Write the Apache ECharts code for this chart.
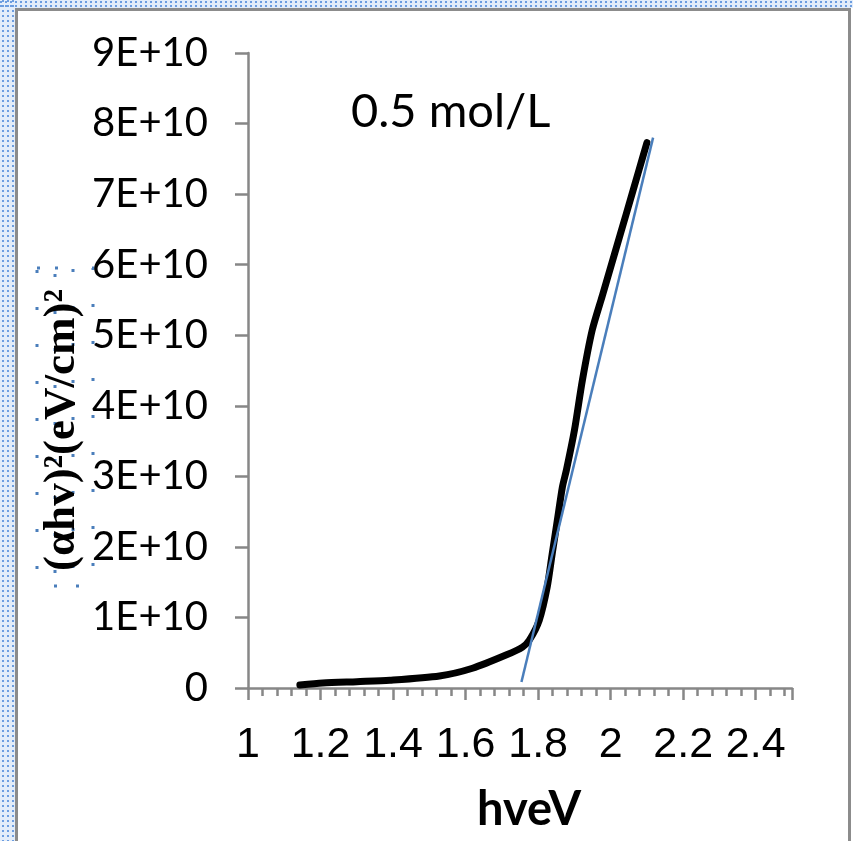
<!DOCTYPE html>
<html>
<head>
<meta charset="utf-8">
<script src="https://cdn.jsdelivr.net/npm/echarts@6/dist/echarts.min.js"></script>
<style>
  html, body { margin: 0; padding: 0; background: #fff; }
  #chart { width: 853px; height: 841px; }
</style>
</head>
<body>
<div id="chart"></div>
<script>
// photon energy (eV) and (αhν)² in units of 1E+10
const hv = [1.143, 1.206, 1.30, 1.391, 1.528, 1.619, 1.713, 1.757, 1.776, 1.803, 1.825, 1.839,
  1.853, 1.867, 1.878, 1.900, 1.922, 1.949, 1.977, 2.010, 2.043, 2.078, 2.100];
const alphaHv2 = [0.042, 0.07, 0.09, 0.11, 0.17, 0.28, 0.47, 0.58, 0.68, 0.96, 1.43, 1.91,
  2.38, 2.85, 3.09, 3.65, 4.36, 5.07, 5.56, 6.14, 6.72, 7.34, 7.73];
// linear fit (tangent) end points
const fitX = [1.754, 2.117];
const fitY = [0.085, 7.80];

const xTicks = [1, 1.2, 1.4, 1.6, 1.8, 2, 2.2, 2.4];

const chart = echarts.init(document.getElementById('chart'));
const axisGray = '#878787';

const curve = hv.map((x, i) => [x, alphaHv2[i]]);
const fit = fitX.map((x, i) => [x, fitY[i]]);

// Word text-box frame around the chart
const frame = [
  { type: 'rect', shape: { x: 0, y: 0, width: 853, height: 8 }, style: { fill: '#e3edfa' }, silent: true },
  { type: 'rect', shape: { x: 0, y: 0, width: 15, height: 841 }, style: { fill: '#e3edfa' }, silent: true }
];
[2, 6].forEach(y => frame.push({ type: 'line', shape: { x1: 0, y1: y, x2: 853, y2: y },
  style: { stroke: '#6c9de0', lineWidth: 2, lineDash: [2, 3] }, silent: true }));
[3, 8, 13].forEach(x => frame.push({ type: 'line', shape: { x1: x, y1: 0, x2: x, y2: 841 },
  style: { stroke: '#6c9de0', lineWidth: 2, lineDash: [2, 3] }, silent: true }));
frame.push({ type: 'rect', shape: { x: 16.5, y: 9.5, width: 833, height: 840 },
  style: { fill: 'none', stroke: '#8c8c8c', lineWidth: 3 }, silent: true });
// selection handles around the y title
[[37, 36], [55, 38]].forEach(r => frame.push({ type: 'rect',
  shape: { x: r[0], y: 268, width: r[1], height: 318 },
  style: { fill: 'none', stroke: '#4a7ebb', lineWidth: 3, lineDash: [3, 34] }, silent: true }));
// y axis title
frame.push({
  type: 'text',
  x: 62,
  y: 430,
  rotation: Math.PI / 2,
  style: {
    text: '(αhv)²(eV/cm)²',
    align: 'center',
    verticalAlign: 'middle',
    fontFamily: 'Liberation Serif',
    fontWeight: 'bold',
    fontSize: 45,
    fill: '#000'
  },
  silent: true
});

chart.setOption({
  animation: false,
  backgroundColor: '#fff',
  title: {
    text: '0.5 mol/L',
    left: 346,
    top: 83,
    textStyle: { fontFamily: 'Lato', fontWeight: 'normal', fontSize: 47, color: '#000' }
  },
  graphic: frame,
  grid: { left: 248, right: 61, top: 53, bottom: 153, outerBoundsMode: 'none' },
  xAxis: {
    type: 'value',
    min: 1,
    max: 2.5,
    interval: 0.2,
    name: 'hveV',
    nameLocation: 'middle',
    nameGap: 98,
    nameTextStyle: { fontFamily: 'Lato', fontWeight: 'bold', fontSize: 47, color: '#000', padding: [0, 0, 0, 18] },
    axisLine: { show: true, lineStyle: { color: axisGray, width: 2.5 } },
    axisTick: { show: true, length: 12, lineStyle: { color: axisGray, width: 2.5 } },
    minorTick: { show: true, splitNumber: 5, length: 8, lineStyle: { color: axisGray, width: 2.5 } },
    splitLine: { show: false },
    axisLabel: {
      margin: 36,
      showMaxLabel: false,
      fontFamily: 'Liberation Sans, Arial, sans-serif',
      fontSize: 43,
      color: '#000',
      formatter: v => {
        const t = xTicks.find(k => Math.abs(k - v) < 1e-6);
        return t === undefined ? '' : String(t);
      }
    }
  },
  yAxis: {
    type: 'value',
    min: 0,
    max: 9,
    interval: 1,
    axisLine: { show: true, lineStyle: { color: axisGray, width: 2.5 } },
    axisTick: { show: true, length: 13, lineStyle: { color: axisGray, width: 2.5 } },
    splitLine: { show: false },
    axisLabel: {
      margin: 40,
      fontFamily: 'Lato',
      fontSize: 40,
      color: '#000',
      formatter: v => (v === 0 ? '0' : v + 'E+10')
    }
  },
  series: [
    {
      name: 'data',
      type: 'line',
      data: curve,
      smooth: 0.25,
      symbol: 'none',
      lineStyle: { color: '#000', width: 7, cap: 'round', join: 'round' }
    },
    {
      name: 'fit',
      type: 'line',
      data: fit,
      symbol: 'none',
      lineStyle: { color: '#4a7ebb', width: 2.5 }
    }
  ]
});
</script>
</body>
</html>
